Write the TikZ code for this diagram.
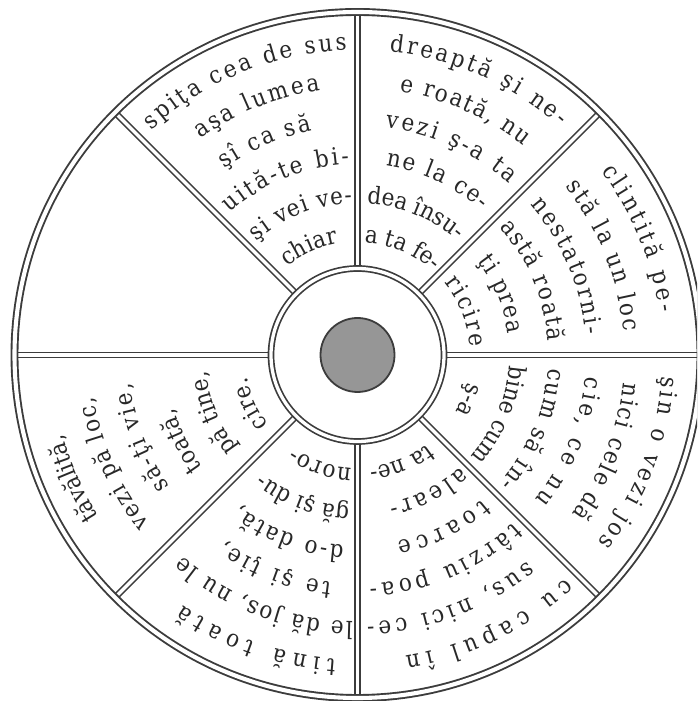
\documentclass[tikz,border=0pt]{standalone}
\usepackage{fontspec}
\usetikzlibrary{decorations.text,calc}
\newfontfamily\wheelserif{DejaVu Serif}[FakeStretch=0.9]
\definecolor{linegray}{RGB}{60,60,60}
\definecolor{inkgray}{RGB}{40,40,40}
\definecolor{hubgray}{RGB}{150,150,150}
\newcommand\wheelfont{\wheelserif\fontsize{24}{28}\selectfont\color{inkgray}}
% #1 start angle, #2 end angle, #3 radius, #4 text
\newcommand\arcfit[4]{%
  \setbox0=\hbox{\wheelfont #4}%
  \pgfmathsetmacro\wheelNat{\the\wd0*1.1+4}%
  \pgfmathsetmacro\wheelLen{#3*pi/180*((#1)-(#2))}%
  \pgfmathtruncatemacro\wheelTight{(\wheelNat>\wheelLen)?1:0}%
  \ifnum\wheelTight=1
    \pgfmathsetmacro\wheelMid{((#1)+(#2))/2}%
    \pgfmathsetmacro\wheelSa{\wheelMid+30}%
    \pgfmathsetmacro\wheelEa{\wheelMid-30}%
    \def\wheelAlign{center}%
  \else
    \pgfmathsetmacro\wheelSa{#1}%
    \pgfmathsetmacro\wheelEa{#2}%
    \def\wheelAlign{fit to path}%
  \fi
  \path[decorate,decoration={text along path,text align/.expanded=\wheelAlign,
    text={|\wheelfont|#4}}]
    (C) ++(\wheelSa:#3) arc[start angle=\wheelSa,end angle=\wheelEa,radius=#3];}
\tikzset{
  spoke/.style={draw=linegray,line width=1.7pt,double=white,double distance=3.3pt},
  rimring/.style={draw=linegray,line width=1.9pt,double=white,double distance=4.1pt},
  hubring/.style={draw=linegray,line width=1.7pt,double=white,double distance=3.3pt},
  hubdisk/.style={draw=linegray,line width=1.8pt,fill=hubgray},
}
\begin{document}
\begin{tikzpicture}[x=1pt,y=1pt]
\useasboundingbox (0,0) rectangle (697,701);
\clip (0,0) rectangle (697,701);
\fill[white] (0,0) rectangle (697,701);
\coordinate (C) at (357.5,346);
% spokes
\foreach \a in {0,45,...,315}{
  \draw[spoke] ($(C)+(\a:89)$) -- ($(C)+(\a:340)$);
}
% rim and hub
\draw[rimring] (C) circle[radius=343];
\draw[hubring] (C) circle[radius=86.5];
\draw[hubdisk] (C) circle[radius=37];
% sector 90-135
\arcfit{132.5}{92}{305}{spiţa cea de sus}
\arcfit{126}{98}{267}{aşa lumea}
\arcfit{125.5}{101.5}{229}{şî ca să}
\arcfit{132}{92.5}{191}{uită-te bi-}
\arcfit{131.5}{92}{152}{şi vei ve-}
\arcfit{128.5}{100}{113}{chiar}
% sector 45-90
\arcfit{84}{48.5}{305}{dreaptă şi ne-}
\arcfit{81}{51.5}{267}{e roată, nu}
\arcfit{83}{48.5}{229}{vezi ş-a ta}
\arcfit{81.5}{49.5}{191}{ne la ce-}
\arcfit{86.5}{49}{152}{dea însu-}
\arcfit{86.5}{49}{113}{a ta fe-}
% sector 0-45
\arcfit{37}{8}{305}{clintită pe-}
\arcfit{39}{5}{267}{stă la un loc}
\arcfit{41}{5}{229}{nestatorni-}
\arcfit{42}{4}{191}{astă roată}
\arcfit{38}{8}{152}{ţi prea}
\arcfit{40}{4}{113}{ricire}
% sector 315-360
\arcfit{-4}{-38}{305}{şin o vezi jos}
\arcfit{-6}{-36.5}{267}{nici cele dă}
\arcfit{-5.5}{-39}{229}{cie, ce nu}
\arcfit{-4}{-42}{191}{cum să în-}
\arcfit{-4}{-42}{152}{bine cum}
\arcfit{-14}{-30}{113}{ş-a}
% sector 270-315
\arcfit{-47}{-81}{305}{cu capul în}
\arcfit{-50.5}{-88}{267}{sus, nici ce-}
\arcfit{-47}{-87}{229}{târziu poa-}
\arcfit{-49}{-78}{191}{toarce}
\arcfit{-47.5}{-78}{152}{alear-}
\arcfit{-52}{-84}{113}{ta ne-}
% sector 225-270
\arcfit{-94}{-125}{305}{tină toată}
\arcfit{-91}{-131}{267}{le dă jos, nu le}
\arcfit{-96.5}{-125.5}{229}{te şi ţie,}
\arcfit{-94}{-128}{191}{d-o dată,}
\arcfit{-93}{-128.5}{152}{gă şi du-}
\arcfit{-93}{-124}{113}{noro-}
% sector 180-225
\arcfit{-148}{-165}{305}{tăvălită,}
\arcfit{-141}{-171}{267}{vezi pă loc,}
\arcfit{-145}{-173}{229}{să-ţi vie,}
\arcfit{-144}{-164}{191}{toată,}
\arcfit{-142}{-174}{152}{pă tine,}
\arcfit{-142}{-169}{113}{cire.}
\end{tikzpicture}
\end{document}
